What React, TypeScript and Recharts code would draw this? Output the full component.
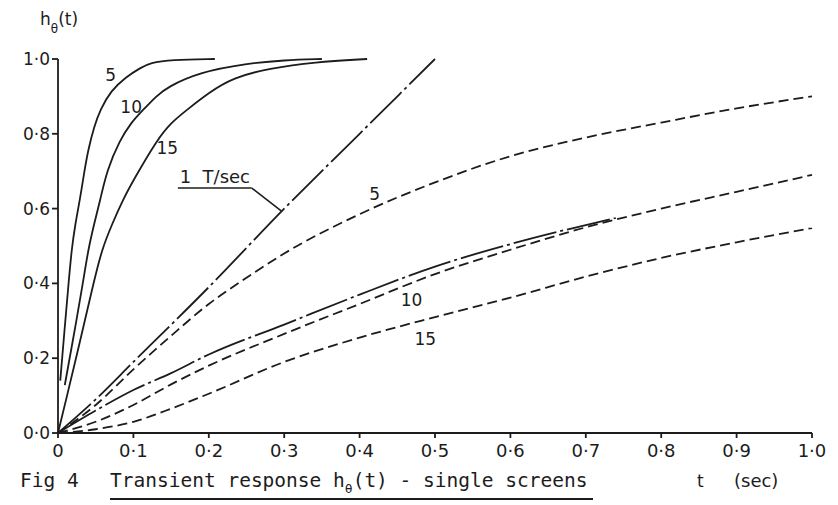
import React from "react";
import { LineChart, Line, XAxis, YAxis, ReferenceDot, ReferenceLine } from "recharts";

type Pt = { t: number; h: number };

// Fast responses (solid) for 5, 10 and 15 T/sec
const fast5: Pt[] = [
  { t: 0.003, h: 0.14 }, { t: 0.008, h: 0.26 }, { t: 0.014, h: 0.4 }, { t: 0.018, h: 0.49 },
  { t: 0.023, h: 0.56 }, { t: 0.029, h: 0.623 }, { t: 0.035, h: 0.7 }, { t: 0.04, h: 0.757 },
  { t: 0.048, h: 0.82 }, { t: 0.056, h: 0.864 }, { t: 0.07, h: 0.915 }, { t: 0.09, h: 0.952 },
  { t: 0.11, h: 0.977 }, { t: 0.122, h: 0.99 }, { t: 0.15, h: 0.998 }, { t: 0.208, h: 1.0 },
];
const fast10: Pt[] = [
  { t: 0.009, h: 0.128 }, { t: 0.02, h: 0.25 }, { t: 0.033, h: 0.4 }, { t: 0.04, h: 0.49 },
  { t: 0.048, h: 0.56 }, { t: 0.056, h: 0.623 }, { t: 0.065, h: 0.703 }, { t: 0.082, h: 0.783 },
  { t: 0.097, h: 0.83 }, { t: 0.113, h: 0.864 }, { t: 0.13, h: 0.9 }, { t: 0.145, h: 0.925 },
  { t: 0.188, h: 0.965 }, { t: 0.25, h: 0.988 }, { t: 0.3, h: 0.997 }, { t: 0.35, h: 1.0 },
];
const fast15: Pt[] = [
  { t: 0, h: 0 }, { t: 0.012, h: 0.1 }, { t: 0.024, h: 0.2 }, { t: 0.047, h: 0.4 },
  { t: 0.058, h: 0.49 }, { t: 0.072, h: 0.56 }, { t: 0.086, h: 0.623 }, { t: 0.1, h: 0.676 },
  { t: 0.131, h: 0.783 }, { t: 0.15, h: 0.83 }, { t: 0.171, h: 0.864 }, { t: 0.2, h: 0.91 },
  { t: 0.232, h: 0.95 }, { t: 0.28, h: 0.975 }, { t: 0.34, h: 0.992 }, { t: 0.41, h: 1.0 },
];

// 1 T/sec ramp
const ramp1: Pt[] = [
  { t: 0, h: 0 }, { t: 0.05, h: 0.09 }, { t: 0.1, h: 0.19 }, { t: 0.2, h: 0.39 },
  { t: 0.3, h: 0.6 }, { t: 0.4, h: 0.8 }, { t: 0.5, h: 1.0 },
];

// Slow responses (dashed)
const slow5: Pt[] = [
  { t: 0, h: 0 }, { t: 0.05, h: 0.075 }, { t: 0.1, h: 0.17 }, { t: 0.15, h: 0.26 },
  { t: 0.2, h: 0.345 }, { t: 0.25, h: 0.415 }, { t: 0.3, h: 0.48 }, { t: 0.4, h: 0.585 },
  { t: 0.5, h: 0.67 }, { t: 0.6, h: 0.74 }, { t: 0.7, h: 0.79 }, { t: 0.8, h: 0.83 },
  { t: 0.9, h: 0.868 }, { t: 1.0, h: 0.9 },
];
const slow10: Pt[] = [
  { t: 0, h: 0 }, { t: 0.05, h: 0.03 }, { t: 0.1, h: 0.075 }, { t: 0.15, h: 0.13 },
  { t: 0.2, h: 0.18 }, { t: 0.3, h: 0.265 }, { t: 0.4, h: 0.345 }, { t: 0.5, h: 0.425 },
  { t: 0.6, h: 0.49 }, { t: 0.7, h: 0.55 }, { t: 0.8, h: 0.6 }, { t: 0.9, h: 0.645 },
  { t: 1.0, h: 0.69 },
];
const slow10b: Pt[] = [
  { t: 0, h: 0 }, { t: 0.05, h: 0.06 }, { t: 0.1, h: 0.115 }, { t: 0.15, h: 0.16 },
  { t: 0.2, h: 0.21 }, { t: 0.3, h: 0.29 }, { t: 0.4, h: 0.37 }, { t: 0.5, h: 0.445 },
  { t: 0.6, h: 0.505 }, { t: 0.74, h: 0.575 },
];
const slow15: Pt[] = [
  { t: 0, h: 0 }, { t: 0.05, h: 0.01 }, { t: 0.1, h: 0.03 }, { t: 0.15, h: 0.065 },
  { t: 0.2, h: 0.105 }, { t: 0.3, h: 0.19 }, { t: 0.4, h: 0.255 }, { t: 0.5, h: 0.31 },
  { t: 0.6, h: 0.362 }, { t: 0.7, h: 0.418 }, { t: 0.8, h: 0.468 }, { t: 0.9, h: 0.51 },
  { t: 1.0, h: 0.548 },
];

const xTicks = [0, 0.1, 0.2, 0.3, 0.4, 0.5, 0.6, 0.7, 0.8, 0.9, 1.0];
const yTicks = [0, 0.2, 0.4, 0.6, 0.8, 1.0];

const ink = "#1c1c1c";
const sans = "'DejaVu Sans', sans-serif";
const mono = "'DejaVu Sans Mono', monospace";

const dot = (v: number) => v.toFixed(1).replace(".", "·");

const curveLabel = (value: string, size = 17) => ({
  value,
  position: "center" as const,
  fill: ink,
  fontSize: size,
  fontFamily: sans,
});

export default function App() {
  const solid = { stroke: ink, strokeWidth: 1.8, dot: false, isAnimationActive: false, type: "monotone" as const, dataKey: "h" };
  const smooth = { ...solid, type: "basis" as const };
  const dashed = { ...solid, strokeDasharray: "10 5" };
  const dashDot = { ...solid, strokeDasharray: "44 4 3 4" };

  return (
    <div style={{ position: "absolute", left: 0, top: 0, width: 838, height: 505, background: "#fff" }}>
      <LineChart width={838} height={505} margin={{ top: 59, right: 26, bottom: 42, left: 8 }}>
        <XAxis
          type="number"
          dataKey="t"
          domain={[0, 1]}
          ticks={xTicks}
          tickFormatter={(v: number) => (v === 0 ? "0" : dot(v))}
          height={30}
          stroke={ink}
          strokeWidth={1.8}
          tickSize={5}
          tickMargin={6}
          tick={{ fill: ink, fontSize: 18, fontFamily: sans }}
        />
        <YAxis
          type="number"
          dataKey="h"
          domain={[0, 1]}
          ticks={yTicks}
          tickFormatter={dot}
          width={50}
          stroke={ink}
          strokeWidth={1.8}
          tickSize={6}
          tickMargin={2}
          tick={{ fill: ink, fontSize: 17, fontFamily: sans }}
        />
        <Line data={fast5} {...smooth} />
        <Line data={fast10} {...smooth} />
        <Line data={fast15} {...smooth} />
        <Line data={ramp1} {...dashDot} />
        <Line data={slow5} {...dashed} />
        <Line data={slow10b} {...dashDot} />
        <Line data={slow10} {...dashed} />
        <Line data={slow15} {...dashed} />

        <ReferenceDot x={0.07} y={0.957} r={0} ifOverflow="visible" label={curveLabel("5")} />
        <ReferenceDot x={0.097} y={0.872} r={0} ifOverflow="visible" label={curveLabel("10")} />
        <ReferenceDot x={0.145} y={0.762} r={0} ifOverflow="visible" label={curveLabel("15")} />
        <ReferenceDot x={0.42} y={0.64} r={0} ifOverflow="visible" label={curveLabel("5")} />
        <ReferenceDot x={0.469} y={0.356} r={0} ifOverflow="visible" label={curveLabel("10")} />
        <ReferenceDot x={0.487} y={0.252} r={0} ifOverflow="visible" label={curveLabel("15")} />
        <ReferenceDot x={0.208} y={0.685} r={0} ifOverflow="visible" label={curveLabel("1\u00a0\u00a0T/sec", 18)} />

        {/* leader from the "1 T/sec" note to the ramp */}
        <ReferenceLine
          segment={[{ x: 0.159, y: 0.655 }, { x: 0.257, y: 0.655 }]}
          stroke={ink}
          strokeWidth={1.6}
          ifOverflow="visible"
        />
        <ReferenceLine
          segment={[{ x: 0.257, y: 0.655 }, { x: 0.296, y: 0.594 }]}
          stroke={ink}
          strokeWidth={1.6}
          ifOverflow="visible"
        />
      </LineChart>

      <svg width={838} height={505} style={{ position: "absolute", left: 0, top: 0, pointerEvents: "none" }}>
        <text x={40} y={25} fill={ink} fontSize={17} fontFamily={sans}>
          h
          <tspan fontSize={12} dy={8}>θ</tspan>
          <tspan dy={-8}>(t)</tspan>
        </text>
        <text x={20} y={487} fill={ink} fontSize={19.5} fontFamily={mono}>Fig 4</text>
        <text x={110} y={487} fill={ink} fontSize={19.5} fontFamily={mono}>
          Transient response h
          <tspan fontSize={13} dy={6}>θ</tspan>
          <tspan dy={-6}>(t) - single screens</tspan>
        </text>
        <line x1={110} y1={499} x2={593} y2={499} stroke={ink} strokeWidth={2} />
        <text x={697} y={487} fill={ink} fontSize={17} fontFamily={sans}>t</text>
        <text x={734} y={487} fill={ink} fontSize={18} fontFamily={sans}>(sec)</text>
      </svg>
    </div>
  );
}
